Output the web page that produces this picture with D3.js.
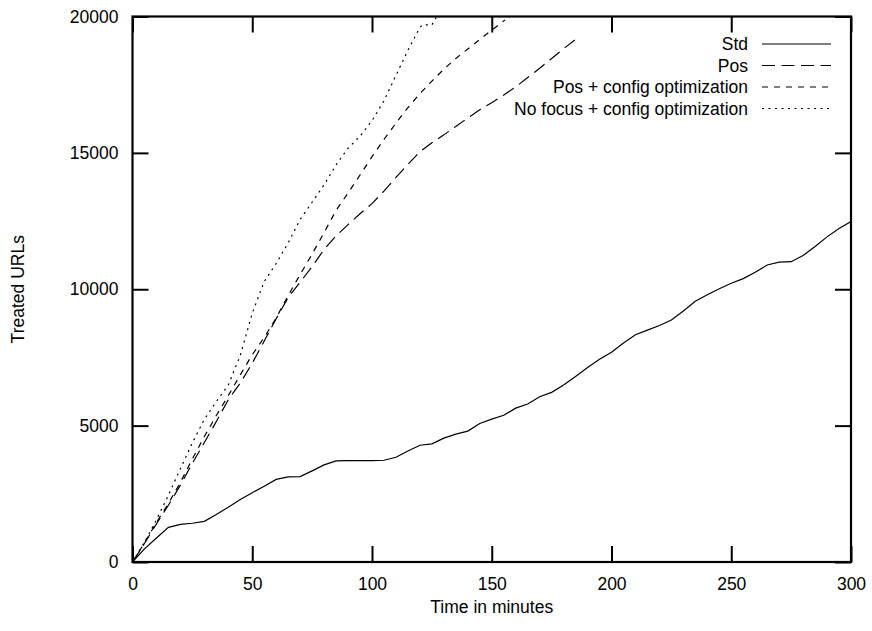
<!DOCTYPE html>
<html>
<head>
<meta charset="utf-8">
<script src="https://cdn.jsdelivr.net/npm/d3@7"></script>
<style>
  body { margin: 0; background: #fff; }
  text { font-family: "Liberation Sans", Arial, Helvetica, sans-serif; font-size: 17.5px; fill: #000; }
</style>
</head>
<body>
<svg id="chart"></svg>
<script>
// minutes -> treated URLs
var stdMinutes = [0,5,10,15,20,25,30,35,40,45,50,55,60,65,70,75,80,85,90,95,100,105,110,115,120,125,130,135,140,145,150,155,160,165,170,175,180,185,190,195,200,205,210,215,220,225,230,235,240,245,250,255,260,265,270,275,280,285,290,295,300];
var stdUrls = [0,480,880,1270,1380,1420,1490,1740,2010,2290,2540,2780,3030,3120,3130,3340,3560,3710,3715,3715,3715,3730,3840,4070,4280,4330,4540,4690,4800,5080,5240,5380,5640,5790,6060,6220,6490,6800,7130,7430,7690,8030,8330,8500,8670,8870,9200,9560,9800,10020,10220,10390,10620,10890,10995,11010,11240,11570,11920,12230,12480];

var posMinutes = [0,5,10,15,20,25,30,35,40,45,50,55,60,65,70,75,80,85,90,95,100,105,110,115,120,125,130,135,140,145,150,155,160,165,170,175,180,184.7];
var posUrls = [0,680,1400,2080,2820,3620,4380,5150,5950,6560,7290,8100,8920,9700,10260,10830,11460,11960,12370,12770,13140,13600,14100,14580,15040,15370,15660,15970,16280,16580,16840,17120,17420,17760,18100,18460,18820,19140];

var posCfgMinutes = [0,5,10,15,20,25,30,35,40,45,50,55,60,65,70,75,80,85,90,95,100,105,110,115,120,125,130,135,140,145,150,155.5];
var posCfgUrls = [0,700,1450,2150,2920,3780,4600,5370,6100,6860,7600,8230,8950,9770,10540,11290,12080,12890,13530,14190,14860,15490,16090,16660,17170,17630,18070,18460,18810,19160,19500,19870];

var noFocusMinutes = [0,5,10,15,20,25,30,35,40,45,50,55,60,65,70,75,80,85,90,95,100,105,110,115,120,121,125,127];
var noFocusUrls = [0,720,1550,2450,3420,4370,5230,5880,6490,7570,9120,10280,10950,11700,12560,13190,13830,14560,15170,15610,16180,16910,17840,18760,19600,19690,19690,20000];

var seriesNames = ["Std", "Pos", "Pos + config optimization", "No focus + config optimization"];
var seriesDash = [null, "13,6.5", "6,6", "2,4.5"];
var xTicks = [0, 50, 100, 150, 200, 250, 300];
var yTicks = [0, 5000, 10000, 15000, 20000];

var width = 872;
var height = 631;
var margin = { top: 16.5, right: 21, bottom: 69, left: 132.5 };
var tickLen = 16;

var svg = d3.select("#chart").attr("width", width).attr("height", height);

var x = d3.scaleLinear().domain([0, 300]).range([margin.left, width - margin.right]);
var y = d3.scaleLinear().domain([0, 20000]).range([height - margin.bottom, margin.top]);

var series = [
  { minutes: stdMinutes, urls: stdUrls },
  { minutes: posMinutes, urls: posUrls },
  { minutes: posCfgMinutes, urls: posCfgUrls },
  { minutes: noFocusMinutes, urls: noFocusUrls }
].map(function (s, i) {
  return {
    name: seriesNames[i],
    dash: seriesDash[i],
    points: s.minutes.map(function (m, j) { return [m, s.urls[j]]; })
  };
});

svg.append("defs").append("clipPath").attr("id", "plot")
  .append("rect")
  .attr("x", x(0)).attr("y", y(20000))
  .attr("width", x(300) - x(0)).attr("height", y(0) - y(20000));

var line = d3.line()
  .x(function (d) { return x(d[0]); })
  .y(function (d) { return y(d[1]); });

svg.append("g")
  .attr("clip-path", "url(#plot)")
  .selectAll("path")
  .data(series)
  .enter()
  .append("path")
  .attr("d", function (d) { return line(d.points); })
  .attr("fill", "none")
  .attr("stroke", "#000")
  .attr("stroke-width", 1.2)
  .attr("stroke-dasharray", function (d) { return d.dash; });

// axes: ticks point inward, mirrored on top and right
function styleAxis(g) {
  g.select(".domain").remove();
  g.selectAll(".tick line").attr("stroke", "#000").attr("stroke-width", 2);
  g.selectAll(".tick text").attr("font-family", null).attr("font-size", null).attr("fill", "#000");
}

svg.append("g")
  .attr("transform", "translate(0," + y(0) + ")")
  .call(d3.axisBottom(x).tickValues(xTicks).tickSizeInner(-tickLen).tickSizeOuter(0).tickPadding(16))
  .call(styleAxis);

svg.append("g")
  .attr("transform", "translate(0," + y(20000) + ")")
  .call(d3.axisTop(x).tickValues(xTicks).tickSizeInner(-tickLen).tickSizeOuter(0).tickFormat(""))
  .call(styleAxis);

svg.append("g")
  .attr("transform", "translate(" + x(0) + ",0)")
  .call(d3.axisLeft(y).tickValues(yTicks).tickSizeInner(-tickLen).tickSizeOuter(0).tickPadding(14).tickFormat(d3.format("d")))
  .call(styleAxis);

svg.append("g")
  .attr("transform", "translate(" + x(300) + ",0)")
  .call(d3.axisRight(y).tickValues(yTicks).tickSizeInner(-tickLen).tickSizeOuter(0).tickFormat(""))
  .call(styleAxis);

svg.append("rect")
  .attr("x", x(0)).attr("y", y(20000))
  .attr("width", x(300) - x(0)).attr("height", y(0) - y(20000))
  .attr("fill", "none")
  .attr("stroke", "#000")
  .attr("stroke-width", 2.2);

svg.append("text")
  .attr("x", (x(0) + x(300)) / 2)
  .attr("y", 613)
  .attr("text-anchor", "middle")
  .text("Time in minutes");

svg.append("text")
  .attr("transform", "translate(24," + (y(10000)) + ") rotate(-90)")
  .attr("text-anchor", "middle")
  .text("Treated URLs");

// legend, top right inside the frame
var legend = svg.append("g")
  .selectAll("g")
  .data(series)
  .enter()
  .append("g")
  .attr("transform", function (d, i) { return "translate(0," + (50 + i * 21.5) + ")"; });

legend.append("text")
  .attr("x", 748)
  .attr("text-anchor", "end")
  .text(function (d) { return d.name; });

legend.append("line")
  .attr("x1", 762).attr("x2", 831)
  .attr("y1", -6).attr("y2", -6)
  .attr("stroke", "#000")
  .attr("stroke-width", 1.2)
  .attr("stroke-dasharray", function (d) { return d.dash; });
</script>
</body>
</html>
